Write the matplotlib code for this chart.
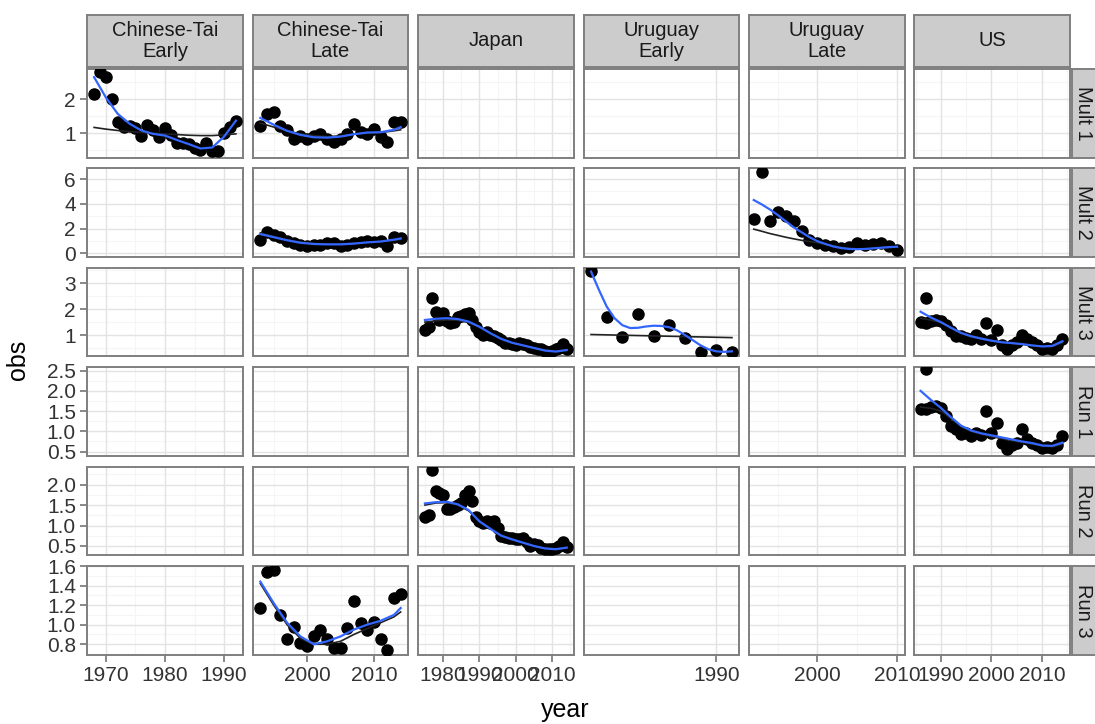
import matplotlib
matplotlib.use('Agg')
import matplotlib.pyplot as plt
import numpy as np

plt.rcParams['font.family'] = ['Liberation Sans', 'DejaVu Sans']

# facet labels
row_names = ['Mult 1', 'Mult 2', 'Mult 3', 'Run 1', 'Run 2', 'Run 3']
col_names = ['Chinese-Tai\nEarly', 'Chinese-Tai\nLate', 'Japan',
             'Uruguay\nEarly', 'Uruguay\nLate', 'US']

# free scales: x per column, y per row
col_xlim = [(1966.8, 1993.2), (1991.9, 2015.1), (1973.1, 2016.0),
            (1973.1, 1992.9), (1991.4, 2011.0), (1984.7, 2015.5)]
col_xticks = [[1970, 1980, 1990], [2000, 2010], [1980, 1990, 2000, 2010],
              [1990], [2000, 2010], [1990, 2000, 2010]]
row_ylim = [(0.27, 2.89), (-0.3, 6.89), (0.19, 3.59),
            (0.39, 2.59), (0.28, 2.43), (0.69, 1.60)]
row_yticks = [[1, 2], [0, 2, 4, 6], [1, 2, 3],
              [0.5, 1.0, 1.5, 2.0, 2.5], [0.5, 1.0, 1.5, 2.0],
              [0.8, 1.0, 1.2, 1.4, 1.6]]
row_fmt = ['%d', '%d', '%d', '%.1f', '%.1f', '%.1f']

# ---- Chinese-Tai Early / Mult 1
cte_m1_year = np.arange(1968, 1993)
cte_m1_obs = [2.16, 2.79, 2.65, 2.0, 1.32, 1.18, 1.22, 1.15, 0.93, 1.25,
              1.08, 0.9, 1.15, 0.95, 0.7, 0.72, 0.69, 0.55, 0.5, 0.7,
              0.48, 0.47, 1.0, 1.18, 1.37]
cte_fit_year = [1968, 1970, 1972, 1974, 1976, 1978, 1980, 1982, 1984, 1986, 1988, 1990, 1992]
cte_m1_smooth = [2.65, 2.05, 1.57, 1.28, 1.08, 0.98, 0.93, 0.8, 0.68, 0.55, 0.58, 0.9, 1.37]
cte_m1_model = [1.17, 1.12, 1.08, 1.05, 1.02, 1.0, 0.98, 0.96, 0.94, 0.93, 0.93, 0.95, 0.98]

# ---- Chinese-Tai Late / Mult 1, Mult 2, Run 3
ctl_year = np.arange(1993, 2015)
ctl_m1_obs = [1.22, 1.57, 1.62, 1.22, 1.08, 0.83, 0.93, 0.83, 0.93, 0.98, 0.83,
              0.74, 0.83, 0.98, 1.27, 1.03, 0.98, 1.13, 0.88, 0.74, 1.32, 1.32]
ctl_m2_obs = [1.1, 1.7, 1.5, 1.35, 1.0, 0.8, 0.7, 0.6, 0.7, 0.65, 0.8,
              0.85, 0.6, 0.7, 0.85, 0.95, 1.0, 0.9, 1.0, 0.6, 1.3, 1.2]
ctl_r3_obs = [1.17, 1.54, 1.56, 1.1, 0.85, 0.98, 0.81, 0.78, 0.88, 0.95, 0.85,
              0.76, 0.76, 0.97, 1.24, 1.02, 0.95, 1.03, 0.85, 0.74, 1.27, 1.31]
ctl_fit_year = [1993, 1995, 1997, 1999, 2001, 2003, 2005, 2007, 2009, 2011, 2013, 2014]
ctl_m1_smooth = [1.45, 1.25, 1.07, 0.95, 0.88, 0.87, 0.9, 0.97, 1.02, 1.03, 1.1, 1.18]
ctl_m1_model = [1.3, 1.18, 1.07, 0.98, 0.93, 0.9, 0.92, 0.97, 1.0, 1.02, 1.07, 1.1]
ctl_m2_smooth = [1.55, 1.3, 1.05, 0.85, 0.75, 0.72, 0.72, 0.78, 0.88, 0.95, 1.1, 1.2]
ctl_m2_model = [1.65, 1.35, 1.1, 0.9, 0.8, 0.75, 0.75, 0.8, 0.88, 0.95, 1.05, 1.12]
ctl_r3_smooth = [1.44, 1.22, 1.02, 0.88, 0.8, 0.83, 0.88, 0.95, 1.0, 1.04, 1.1, 1.17]
ctl_r3_model = [1.42, 1.2, 1.0, 0.86, 0.8, 0.8, 0.83, 0.9, 0.96, 1.02, 1.08, 1.13]

# ---- Japan / Mult 3, Run 2
jp_year = np.arange(1975, 2015)
jp_m3_obs = [1.2, 1.3, 2.45, 1.9, 1.6, 1.85, 1.55, 1.45, 1.5, 1.7,
             1.75, 1.8, 1.85, 1.6, 1.3, 1.1, 1.0, 1.1, 1.0, 0.95,
             0.9, 0.8, 0.7, 0.7, 0.65, 0.6, 0.7, 0.65, 0.6, 0.55,
             0.5, 0.45, 0.45, 0.4, 0.35, 0.4, 0.45, 0.5, 0.65, 0.45]
jp_r2_obs = [1.2, 1.25, 2.36, 1.85, 1.8, 1.75, 1.4, 1.4, 1.45, 1.5,
             1.55, 1.75, 1.85, 1.6, 1.2, 1.1, 1.05, 1.1, 1.05, 1.1,
             0.95, 0.75, 0.72, 0.7, 0.7, 0.68, 0.66, 0.7, 0.6, 0.5,
             0.55, 0.52, 0.45, 0.42, 0.42, 0.43, 0.45, 0.5, 0.6, 0.48]
jp_fit_year = [1975, 1978, 1981, 1984, 1987, 1990, 1993, 1996, 1999, 2002, 2005, 2008, 2011, 2014]
jp_m3_smooth = [1.58, 1.63, 1.65, 1.62, 1.52, 1.32, 1.07, 0.85, 0.7, 0.6, 0.5, 0.4, 0.36, 0.42]
jp_m3_model = [1.5, 1.55, 1.58, 1.57, 1.48, 1.3, 1.07, 0.86, 0.7, 0.6, 0.5, 0.42, 0.38, 0.42]
jp_r2_smooth = [1.54, 1.57, 1.58, 1.52, 1.38, 1.1, 0.92, 0.75, 0.66, 0.58, 0.5, 0.44, 0.42, 0.46]
jp_r2_model = [1.5, 1.55, 1.56, 1.5, 1.36, 1.12, 0.93, 0.77, 0.67, 0.58, 0.5, 0.45, 0.43, 0.46]

# ---- Uruguay Early / Mult 3
ue_year = [1974, 1976, 1978, 1980, 1982, 1984, 1986, 1988, 1990, 1992]
ue_m3_obs = [3.48, 1.69, 0.93, 1.8, 0.96, 1.39, 0.87, 0.35, 0.42, 0.35]
ue_smooth_year = np.arange(1974, 1993)
ue_m3_smooth = [3.45, 2.75, 2.1, 1.65, 1.38, 1.27, 1.28, 1.33, 1.36, 1.35,
                1.3, 1.18, 1.0, 0.8, 0.6, 0.45, 0.37, 0.35, 0.37]
ue_model_year = [1974, 1992]
ue_m3_model = [1.02, 0.9]

# ---- Uruguay Late / Mult 2
ul_year = np.arange(1992, 2011)
ul_m2_obs = [2.75, 6.6, 2.6, 3.3, 3.0, 2.6, 1.8, 1.1, 0.8, 0.7,
             0.55, 0.4, 0.5, 0.8, 0.7, 0.75, 0.85, 0.6, 0.3]
ul_m2_smooth = [4.3, 3.95, 3.55, 3.1, 2.6, 2.1, 1.7, 1.3, 0.98, 0.75,
                0.55, 0.42, 0.35, 0.33, 0.35, 0.4, 0.45, 0.5, 0.53]
ul_m2_model = [1.95, 1.78, 1.6, 1.45, 1.3, 1.17, 1.05, 0.95, 0.85, 0.72,
               0.6, 0.48, 0.4, 0.36, 0.36, 0.4, 0.44, 0.47, 0.5]

# ---- US / Mult 3, Run 1
us_year = [1986, 1987, 1987, 1988, 1989, 1990, 1991, 1992, 1993, 1994, 1995,
           1996, 1997, 1998, 1999, 2000, 2001, 2002, 2003, 2004, 2005, 2006,
           2007, 2008, 2009, 2010, 2011, 2012, 2013, 2014]
us_m3_obs = [1.5, 2.45, 1.45, 1.55, 1.6, 1.55, 1.4, 1.15, 0.95, 0.95, 0.88,
             0.85, 1.0, 0.85, 1.45, 0.8, 1.2, 0.6, 0.45, 0.6, 0.75, 1.0,
             0.85, 0.75, 0.6, 0.45, 0.5, 0.45, 0.6, 0.85]
us_r1_obs = [1.54, 2.53, 1.54, 1.6, 1.63, 1.58, 1.38, 1.13, 1.05, 0.93, 0.95,
             0.89, 0.96, 0.9, 1.5, 0.96, 1.21, 0.72, 0.56, 0.65, 0.7, 1.05,
             0.8, 0.72, 0.65, 0.6, 0.62, 0.6, 0.65, 0.89]
us_fit_year = [1986, 1988, 1990, 1992, 1994, 1996, 1998, 2000, 2002, 2004, 2006, 2008, 2010, 2012, 2014]
us_m3_smooth = [1.9, 1.68, 1.5, 1.28, 1.08, 0.95, 0.86, 0.78, 0.72, 0.69, 0.65, 0.6, 0.56, 0.58, 0.76]
us_m3_model = [1.65, 1.58, 1.48, 1.3, 1.1, 0.97, 0.88, 0.8, 0.73, 0.68, 0.64, 0.6, 0.56, 0.56, 0.7]
us_r1_smooth = [2.0, 1.78, 1.58, 1.35, 1.14, 1.02, 0.95, 0.9, 0.85, 0.8, 0.75, 0.71, 0.65, 0.64, 0.72]
us_r1_model = [1.6, 1.57, 1.5, 1.32, 1.12, 1.0, 0.93, 0.87, 0.82, 0.77, 0.73, 0.69, 0.64, 0.62, 0.68]

# (row, col) -> points, model fit (black), loess fit (blue)
panels = {
    (0, 0): (cte_m1_year, cte_m1_obs, cte_fit_year, cte_m1_model, cte_fit_year, cte_m1_smooth),
    (0, 1): (ctl_year, ctl_m1_obs, ctl_fit_year, ctl_m1_model, ctl_fit_year, ctl_m1_smooth),
    (1, 1): (ctl_year, ctl_m2_obs, ctl_fit_year, ctl_m2_model, ctl_fit_year, ctl_m2_smooth),
    (5, 1): (ctl_year, ctl_r3_obs, ctl_fit_year, ctl_r3_model, ctl_fit_year, ctl_r3_smooth),
    (2, 2): (jp_year, jp_m3_obs, jp_fit_year, jp_m3_model, jp_fit_year, jp_m3_smooth),
    (4, 2): (jp_year, jp_r2_obs, jp_fit_year, jp_r2_model, jp_fit_year, jp_r2_smooth),
    (2, 3): (ue_year, ue_m3_obs, ue_model_year, ue_m3_model, ue_smooth_year, ue_m3_smooth),
    (1, 4): (ul_year, ul_m2_obs, ul_year, ul_m2_model, ul_year, ul_m2_smooth),
    (2, 5): (us_year, us_m3_obs, us_fit_year, us_m3_model, us_fit_year, us_m3_smooth),
    (3, 5): (us_year, us_r1_obs, us_fit_year, us_r1_model, us_fit_year, us_r1_smooth),
}

W, H = 1095, 724
col_px = [(87, 243), (253, 408), (418, 574), (584, 739), (749, 905), (914, 1070)]
row_px = [(69, 158), (168, 257), (268, 356), (367, 456), (467, 555), (566, 655)]

def rect(x0, y0, x1, y1):
    return [x0 / W, 1 - y1 / H, (x1 - x0) / W, (y1 - y0) / H]

def minors(ticks, lim):
    step = ticks[1] - ticks[0] if len(ticks) > 1 else 10
    m = np.arange(ticks[0] - step / 2, ticks[-1] + step, step)
    return [v for v in m if lim[0] < v < lim[1]]

fig = plt.figure(figsize=(W / 100, H / 100), dpi=100)
tick_col = '#333333'
border = '#7f7f7f'

for r in range(6):
    for c in range(6):
        x0, x1 = col_px[c]
        y0, y1 = row_px[r]
        ax = fig.add_axes(rect(x0, y0, x1, y1))
        ax.set_xlim(*col_xlim[c])
        ax.set_ylim(*row_ylim[r])
        for v in minors(col_xticks[c], col_xlim[c]) if c != 3 else []:
            ax.axvline(v, color='#f5f5f5', lw=0.8, zorder=0)
        for v in minors(row_yticks[r], row_ylim[r]):
            ax.axhline(v, color='#f5f5f5', lw=0.8, zorder=0)
        for v in col_xticks[c]:
            ax.axvline(v, color='#e3e3e3', lw=1.0, zorder=0.5)
        for v in row_yticks[r]:
            ax.axhline(v, color='#e3e3e3', lw=1.0, zorder=0.5)
        ax.set_xticks(col_xticks[c])
        ax.set_yticks(row_yticks[r])
        ax.tick_params(colors=border, labelcolor=tick_col, labelsize=15,
                       length=5, width=1.3, direction='out', pad=3)
        if r == 5:
            ax.set_xticklabels([str(t) for t in col_xticks[c]])
        else:
            ax.tick_params(axis='x', bottom=False, labelbottom=False)
        if c == 0:
            ax.set_yticklabels([row_fmt[r] % t for t in row_yticks[r]])
        else:
            ax.tick_params(axis='y', left=False, labelleft=False)
        for s in ax.spines.values():
            s.set_color(border)
            s.set_linewidth(1.4)

        if (r, c) in panels:
            px, py, kx, ky, sx, sy = panels[(r, c)]
            ax.plot(px, py, 'o', color='black', ms=8, zorder=3)
            ax.plot(kx, ky, '-', color='#222222', lw=1.2, zorder=4)
            ax.plot(sx, sy, '-', color='#3366ff', lw=1.6, zorder=5)

        if r == 0:
            sax = fig.add_axes(rect(x0, 15, x1, 67))
            sax.set_facecolor('#cccccc')
            sax.set_xticks([]); sax.set_yticks([])
            for s in sax.spines.values():
                s.set_color(border); s.set_linewidth(1.4)
            sax.text(0.5, 0.5, col_names[c], ha='center', va='center',
                     fontsize=14.5, color='#1a1a1a', linespacing=1.1,
                     transform=sax.transAxes)
    rax = fig.add_axes(rect(1072, row_px[r][0], 1097, row_px[r][1]))
    rax.set_facecolor('#cccccc')
    rax.set_xticks([]); rax.set_yticks([])
    for s in rax.spines.values():
        s.set_color(border); s.set_linewidth(1.4)
    rax.text(0.45, 0.5, row_names[r], ha='center', va='center', rotation=-90,
             fontsize=14.5, color='#1a1a1a', transform=rax.transAxes)

fig.text(565 / W, 1 - 710 / H, 'year', ha='center', va='center', fontsize=18)
fig.text(18 / W, 1 - 360 / H, 'obs', ha='center', va='center', fontsize=18,
         rotation=90)

fig.savefig('out.png', dpi=100, facecolor='white')
